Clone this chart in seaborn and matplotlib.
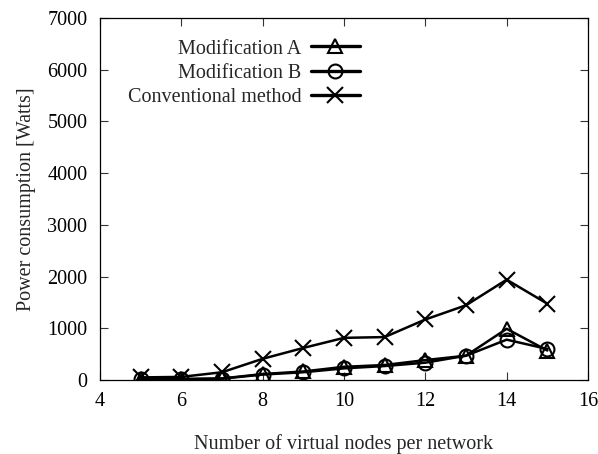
import matplotlib
matplotlib.use("Agg")
import matplotlib.pyplot as plt
import seaborn as sns
import pandas as pd

nodes = [5, 6, 7, 8, 9, 10, 11, 12, 13, 14, 15]
mod_a = [10, 20, 30, 115, 165, 255, 290, 385, 470, 990, 570]
mod_b = [10, 15, 25, 105, 150, 225, 270, 335, 470, 780, 600]
conventional = [50, 60, 150, 410, 620, 815, 830, 1170, 1445, 1940, 1475]
series_names = ["Modification A", "Modification B", "Conventional method"]
x_ticks = [4, 6, 8, 10, 12, 14, 16]
y_ticks = [0, 1000, 2000, 3000, 4000, 5000, 6000, 7000]

sns.set_style("ticks")
plt.rcParams['font.family'] = ['Liberation Serif', 'DejaVu Serif']

fig = plt.figure(figsize=(5.98, 4.54), dpi=100)
ax = fig.add_axes([100/598, 74/454, 488/598, 362/454])

df = pd.DataFrame({
    "x": nodes * 3,
    "y": mod_a + mod_b + conventional,
    "s": [series_names[0]] * len(nodes) + [series_names[1]] * len(nodes) + [series_names[2]] * len(nodes),
})

markers = {series_names[0]: "^", series_names[1]: "o", series_names[2]: "x"}
for name in series_names:
    sub = df[df["s"] == name]
    sns.lineplot(data=sub, x="x", y="y", ax=ax, color="black", linewidth=1.8,
                 marker=markers[name], markersize=10 if name != series_names[2] else 11,
                 markerfacecolor="none", markeredgecolor="black", markeredgewidth=1.5,
                 label=name)

ax.set_xlim(4, 16)
ax.set_ylim(0, 7000)
ax.set_xticks(x_ticks)
ax.set_yticks(y_ticks)
ax.tick_params(direction="in", top=True, right=True, length=6, width=0.8,
               labelsize=14.5, pad=9, colors="#333333", labelcolor="black")
for sp in ax.spines.values():
    sp.set_linewidth(0.9)
    sp.set_color("black")
ax.set_xlabel("Number of virtual nodes per network", fontsize=14.5, labelpad=16)
ax.set_ylabel("Power consumption [Watts]", fontsize=14.5, labelpad=8)

leg = ax.legend(loc="upper left", bbox_to_anchor=(0.04, 0.963), frameon=False,
                markerfirst=False, fontsize=14.5, handlelength=2.4,
                labelspacing=0.25, handletextpad=0.5, borderaxespad=0)
for t in leg.get_texts():
    t.set_ha("right")
for line in leg.get_lines():
    line.set_linewidth(2.4)
leg._legend_box.align = "right"

fig.savefig("out.png", dpi=100)
